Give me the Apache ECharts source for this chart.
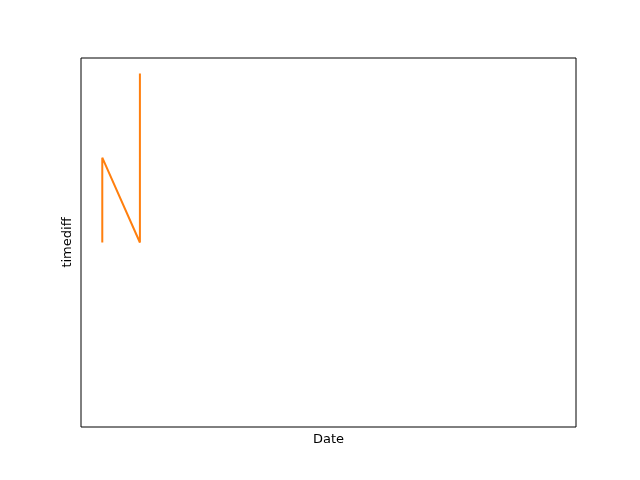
<!DOCTYPE html>
<html><head><meta charset="utf-8">
<script src="https://cdn.jsdelivr.net/npm/echarts@6/dist/echarts.min.js"></script>
<style>html,body{margin:0;padding:0;background:#fff}#c{width:640px;height:480px}</style>
</head><body><div id="c"></div>
<script>
const xValues = [4.3, 4.3, 11.9, 11.9];
const timediff = [50.0, 73.0, 50.0, 95.8];
const xLabel = 'Date';
const yLabel = 'timediff';

const chart = echarts.init(document.getElementById('c'), null, {renderer: 'canvas'});
const font = 'DejaVu Sans';
chart.setOption({
  animation: false,
  backgroundColor: '#ffffff',
  grid: {left: 81, right: 64, top: 58, bottom: 53, show: true, borderColor: '#000', borderWidth: 1, backgroundColor: 'transparent'},
  xAxis: {
    type: 'value', min: 0, max: 100,
    name: xLabel, nameLocation: 'middle', nameGap: 6,
    nameTextStyle: {fontFamily: font, fontSize: 13, color: '#000'},
    axisLine: {show: false}, axisTick: {show: false}, axisLabel: {show: false}, splitLine: {show: false}
  },
  yAxis: {
    type: 'value', min: 0, max: 100,
    name: yLabel, nameLocation: 'middle', nameGap: 7,
    nameTextStyle: {fontFamily: font, fontSize: 13, color: '#000'},
    axisLine: {show: false}, axisTick: {show: false}, axisLabel: {show: false}, splitLine: {show: false}
  },
  series: [{
    type: 'line',
    data: xValues.map((x, i) => [x, timediff[i]]),
    showSymbol: false,
    lineStyle: {color: '#ff7f0e', width: 2},
    itemStyle: {color: '#ff7f0e'}
  }]
});
</script></body></html>
